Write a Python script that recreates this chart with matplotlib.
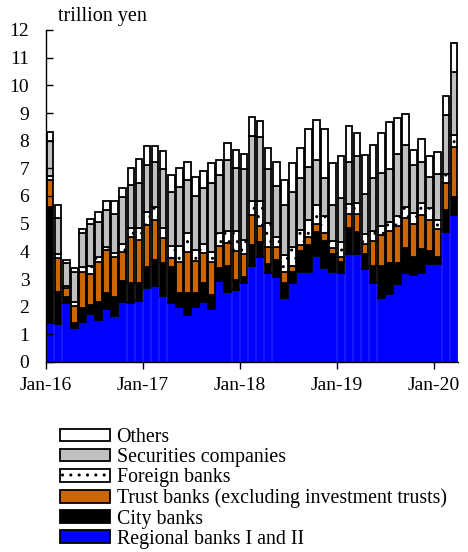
import matplotlib
matplotlib.use("Agg")
import matplotlib.pyplot as plt
from matplotlib.patches import Patch
import numpy as np

months = ["Jan-16", "Jan-17", "Jan-18", "Jan-19", "Jan-20"]

regional = [1.40, 1.38, 2.14, 1.24, 1.46, 1.72, 1.52, 1.93, 1.65, 2.18, 2.13, 2.19,
            2.68, 2.74, 2.39, 2.13, 2.00, 1.71, 1.98, 2.18, 1.91, 2.93, 2.54, 2.60,
            2.87, 3.48, 3.78, 3.21, 3.08, 2.33, 2.87, 3.26, 3.26, 3.83, 3.41, 3.26,
            3.21, 3.89, 3.89, 3.35, 2.87, 2.32, 2.47, 2.81, 3.21, 3.14, 3.21, 3.53,
            3.53, 4.71, 5.31]
city = [4.19, 1.16, 0.22, 0.16, 0.48, 0.34, 0.66, 0.57, 0.71, 0.76, 0.74, 0.65,
        0.76, 0.95, 1.18, 1.29, 0.48, 0.77, 0.50, 0.67, 0.51, 0.48, 0.94, 0.36,
        0.21, 0.75, 0.55, 0.33, 0.61, 0.54, 0.39, 0.76, 0.97, 0.86, 0.96, 0.64,
        0.41, 0.94, 0.80, 0.55, 0.61, 1.16, 1.10, 0.76, 0.90, 0.65, 0.86, 0.49,
        0.28, 0.78, 0.66]
trust = [0.99, 1.22, 0.30, 0.62, 1.32, 1.12, 1.44, 1.55, 1.45, 1.05, 1.65, 1.57,
         1.51, 1.44, 0.90, 0.35, 1.14, 1.51, 1.17, 1.10, 1.18, 0.77, 0.83, 1.06,
         0.82, 1.08, 0.59, 0.63, 0.48, 0.39, 0.22, 0.21, 0.28, 0.30, 0.28, 0.21,
         0.16, 0.51, 0.65, 0.36, 0.90, 1.11, 1.18, 1.36, 1.08, 1.20, 1.24, 1.11,
         0.99, 0.99, 1.81]
foreign = [0.14, 0.14, 0.10, 0.16, 0.18, 0.30, 0.19, 0.12, 0.14, 0.26, 0.32, 0.44,
           0.48, 0.48, 0.38, 0.42, 0.57, 0.66, 0.40, 0.30, 0.39, 0.49, 0.42, 0.71,
           0.51, 0.51, 0.90, 0.84, 0.36, 0.61, 0.66, 0.54, 0.62, 0.68, 0.63, 0.27,
           0.55, 0.36, 0.40, 0.35, 0.35, 0.33, 0.32, 0.35, 0.42, 0.41, 0.43, 0.42,
           0.33, 0.31, 0.42]
securities = [1.26, 1.29, 0.81, 1.08, 1.21, 1.51, 1.26, 1.32, 1.40, 1.72, 1.56, 1.61,
              1.69, 1.63, 2.12, 1.94, 2.15, 1.93, 1.96, 2.03, 2.49, 2.08, 2.57, 2.29,
              2.55, 2.35, 2.32, 1.95, 1.84, 1.80, 2.01, 1.87, 1.93, 1.63, 1.36, 1.29,
              1.61, 1.54, 1.72, 1.48, 1.91, 1.92, 1.89, 2.24, 2.23, 1.72, 1.50, 1.15,
              1.66, 2.14, 2.29]
others = [0.34, 0.50, 0.12, 0.15, 0.17, 0.17, 0.34, 0.34, 0.48, 0.33, 0.63, 0.87,
          0.69, 0.57, 0.67, 0.63, 0.68, 0.66, 0.69, 0.63, 0.70, 0.55, 0.63, 0.64,
          0.56, 0.70, 0.58, 0.76, 0.87, 0.91, 1.03, 1.08, 1.35, 1.45, 1.77, 1.51,
          1.50, 1.29, 0.80, 1.39, 1.20, 1.42, 1.70, 1.31, 1.11, 0.54, 0.81, 0.76,
          0.79, 0.69, 1.03]

labels = ["Regional banks I and II", "City banks",
          "Trust banks (excluding investment trusts)", "Foreign banks",
          "Securities companies", "Others"]
series = [regional, city, trust, foreign, securities, others]
colors = ["#0000FF", "#000000", "#CC6600", "#FFFFFF", "#C0C0C0", "#FFFFFF"]
hatches = [None, None, None, "..", None, None]

plt.rcParams["font.family"] = ["Liberation Serif", "DejaVu Serif"]
plt.rcParams["hatch.linewidth"] = 1.0

fig = plt.figure(figsize=(4.68, 5.52), dpi=100)
ax = fig.add_axes([46 / 468, 1 - 362 / 552, 412 / 468, 332 / 552])

x = np.arange(len(regional)) + 0.5
bottom = np.zeros(len(regional))
for vals, c, h in zip(series, colors, hatches):
    vals = np.array(vals)
    ec = c if c == "#0000FF" else "black"
    ax.bar(x, vals, width=0.82, bottom=bottom, color=c, edgecolor=ec,
           linewidth=1.3, hatch=h)
    bottom += vals

ax.set_xlim(0, len(regional))
ax.set_ylim(0, 12)
ax.set_yticks(range(0, 13))
ax.set_xticks([0, 12, 24, 36, 48])
ax.set_xticklabels(months)
ax.tick_params(axis="y", direction="in", length=5, width=1, pad=12, labelsize=14)
ax.tick_params(axis="x", direction="out", length=5, width=1, pad=6, labelsize=14)
for s in ["top", "right"]:
    ax.spines[s].set_visible(False)
ax.spines["left"].set_linewidth(1)
ax.spines["bottom"].set_linewidth(1)

fig.text(58 / 468, 1 - 17 / 552, "trillion yen", fontsize=14.5, va="center", ha="left")

handles = [Patch(facecolor=c, edgecolor="black", linewidth=1.3, hatch=h)
           for c, h in zip(colors, hatches)]
fig.legend(handles[::-1], labels[::-1], loc="upper left",
           bbox_to_anchor=(60 / 468, 1 - 428 / 552), frameon=False,
           fontsize=14.3, handlelength=2.5, handleheight=0.6, handletextpad=0.35,
           labelspacing=0.06, borderpad=0, borderaxespad=0)

fig.savefig("out.png", dpi=100)
